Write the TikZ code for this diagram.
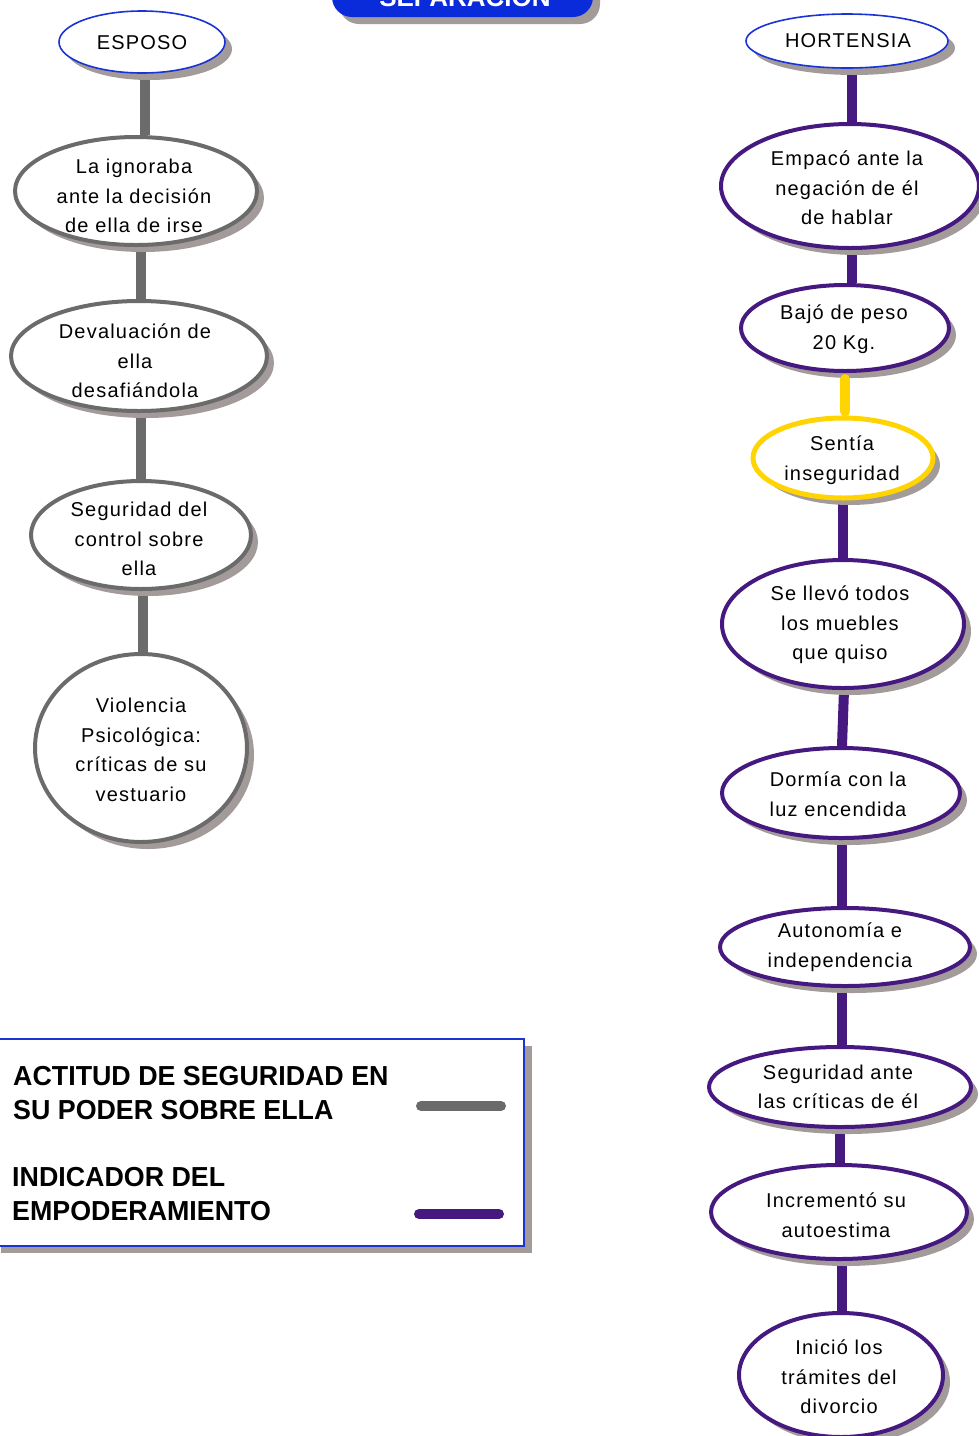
\documentclass[tikz,border=0pt]{standalone}
\usepackage{fontspec}
\setmainfont{Liberation Sans}
\newfontfamily\bubblefont[LetterSpace=6]{Liberation Sans}
\newfontfamily\keyfont[FakeStretch=0.975]{Liberation Sans}
\usetikzlibrary{shapes.geometric,shadows}
\definecolor{shade}{HTML}{A39A9A}
\definecolor{husband}{HTML}{6B6B6B}
\definecolor{wife}{HTML}{45197F}
\definecolor{alert}{HTML}{FFD400}
\definecolor{title}{HTML}{0A2BD9}
\definecolor{edge}{HTML}{1A33D6}
\pgfdeclarelayer{bg}
\pgfsetlayers{bg,main}
\tikzset{
  bubble/.style={ellipse, fill=white, line width=4pt, inner sep=0pt,
    drop shadow={shadow xshift=7pt, shadow yshift=-7pt, fill=shade, opacity=1}},
  head/.style={bubble, draw=edge, line width=1.6pt},
  gbub/.style={bubble, draw=husband},
  pbub/.style={bubble, draw=wife},
  ybub/.style={bubble, draw=alert, line width=5pt},
  words/.style={align=center, inner sep=0pt, font=\bubblefont\fontsize{20}{29.5}\selectfont},
  glink/.style={draw=husband, line width=10pt},
  plink/.style={draw=wife, line width=10pt},
  ylink/.style={draw=alert, line width=10pt, line cap=round},
  keytext/.style={anchor=west, align=left, inner sep=0pt,
    font=\keyfont\bfseries\fontsize{27.5}{33.5}\selectfont},
}
\begin{document}
\begin{tikzpicture}[x=1pt, y=-1pt]
\useasboundingbox (0,0) rectangle (979,1436);
\clip (0,0) rectangle (979,1436);

% title banner
\node[fill=title, rounded corners=20pt, minimum width=261pt, minimum height=60pt,
  inner sep=0pt,
  drop shadow={shadow xshift=7pt, shadow yshift=-7pt, fill=shade, opacity=1}]
  (banner) at (462.5,-13) {};
\node[text=white, font=\bfseries\fontsize{26}{30}\selectfont, anchor=base, inner sep=0pt]
  (bannertxt) at (465,6) {SEPARACIÓN};

% husband column
\node[head, minimum width=166pt, minimum height=62pt] (e0) at (142,42) {};
\node[gbub, minimum width=242pt, minimum height=108pt] (e1) at (136,191) {};
\node[gbub, minimum width=256pt, minimum height=110pt] (e2) at (139,356) {};
\node[gbub, minimum width=220pt, minimum height=108pt] (e3) at (141,535) {};
\node[gbub, minimum width=212pt, minimum height=188pt] (e4) at (141,748) {};
\node[words] (e0t) at (142,43) {ESPOSO};
\node[words] (e1t) at (134,196) {La ignoraba\\ante la decisión\\de ella de irse};
\node[words] (e2t) at (135,361) {Devaluación de\\ella\\desafiándola};
\node[words] (e3t) at (139,539) {Seguridad del\\control sobre\\ella};
\node[words] (e4t) at (141,750) {Violencia\\Psicológica:\\críticas de su\\vestuario};

% wife column
\node[head, minimum width=202pt, minimum height=54pt] (h0) at (847,41) {};
\node[pbub, minimum width=258pt, minimum height=124pt] (h1) at (850,186) {};
\node[pbub, minimum width=208pt, minimum height=86pt] (h2) at (845,328) {};
\node[ybub, minimum width=180pt, minimum height=80pt] (h3) at (843,458) {};
\node[pbub, minimum width=242pt, minimum height=128pt] (h4) at (843,624) {};
\node[pbub, minimum width=238pt, minimum height=90pt] (h5) at (841,793) {};
\node[pbub, minimum width=250pt, minimum height=78pt] (h6) at (845,947) {};
\node[pbub, minimum width=262pt, minimum height=80pt] (h7) at (840,1087) {};
\node[pbub, minimum width=256pt, minimum height=94pt] (h8) at (839,1212) {};
\node[pbub, minimum width=204pt, minimum height=124pt] (h9) at (841,1375) {};
\node[words] (h0t) at (848,41) {HORTENSIA};
\node[words] (h1t) at (847,188) {Empacó ante la\\negación de él\\de hablar};
\node[words] (h2t) at (844,329) {Bajó de peso\\20 Kg.};
\node[words] (h3t) at (842,460) {Sentía\\inseguridad};
\node[words] (h4t) at (840,625) {Se llevó todos\\los muebles\\que quiso};
\node[words] (h5t) at (838,794) {Dormía con la\\luz encendida};
\node[words] (h6t) at (840,947) {Autonomía e\\independencia};
\node[words] (h7t) at (838,1087) {Seguridad ante\\las críticas de él};
\node[words] (h8t) at (836,1215) {Incrementó su\\autoestima};
\node[words] (h9t) at (839,1377) {Inició los\\trámites del\\divorcio};

% links between stages
\begin{pgfonlayer}{bg}
  \draw[glink] ([xshift=3pt]e0.south) -- ([xshift=9pt]e1.north);
  \draw[glink] ([xshift=5pt]e1.south) -- ([xshift=2pt]e2.north);
  \draw[glink] ([xshift=2pt]e2.south) -- (e3.north);
  \draw[glink] ([xshift=2pt]e3.south) -- ([xshift=2pt]e4.north);
  \draw[plink] ([xshift=5pt]h0.south) -- ([xshift=2pt]h1.north);
  \draw[plink] ([xshift=2pt]h1.south) -- ([xshift=7pt]h2.north);
  \draw[plink] (h3.south) -- (h4.north);
  \draw[plink] ([xshift=1pt]h4.south) -- ([xshift=1pt]h5.north);
  \draw[plink] ([xshift=1pt]h5.south) -- ([xshift=-3pt]h6.north);
  \draw[plink] ([xshift=-3pt]h6.south) -- ([xshift=2pt]h7.north);
  \draw[plink] (h7.south) -- ([xshift=1pt]h8.north);
  \draw[plink] ([xshift=3pt]h8.south) -- ([xshift=1pt]h9.north);
\end{pgfonlayer}
\draw[ylink] ([yshift=-6pt]h2.south) -- ([xshift=2pt,yshift=4pt]h3.north);

% key
\node[draw=edge, line width=1.6pt, fill=white, minimum width=531pt, minimum height=207pt,
  inner sep=0pt, drop shadow={shadow xshift=8pt, shadow yshift=-7pt, fill=shade, opacity=1}]
  (key) at (258.5,1142.5) {};
\node[keytext] (k1) at (13,1093) {ACTITUD DE SEGURIDAD EN\\SU PODER SOBRE ELLA};
\node[keytext] (k2) at (12,1194) {INDICADOR DEL\\EMPODERAMIENTO};
\coordinate (g1) at (421,1106);
\coordinate (g2) at (501,1106);
\coordinate (p1) at (419,1214);
\coordinate (p2) at (499,1214);
\draw[draw=husband, line width=10pt, line cap=round] (g1) -- (g2);
\draw[draw=wife, line width=10pt, line cap=round] (p1) -- (p2);
\end{tikzpicture}
\end{document}
